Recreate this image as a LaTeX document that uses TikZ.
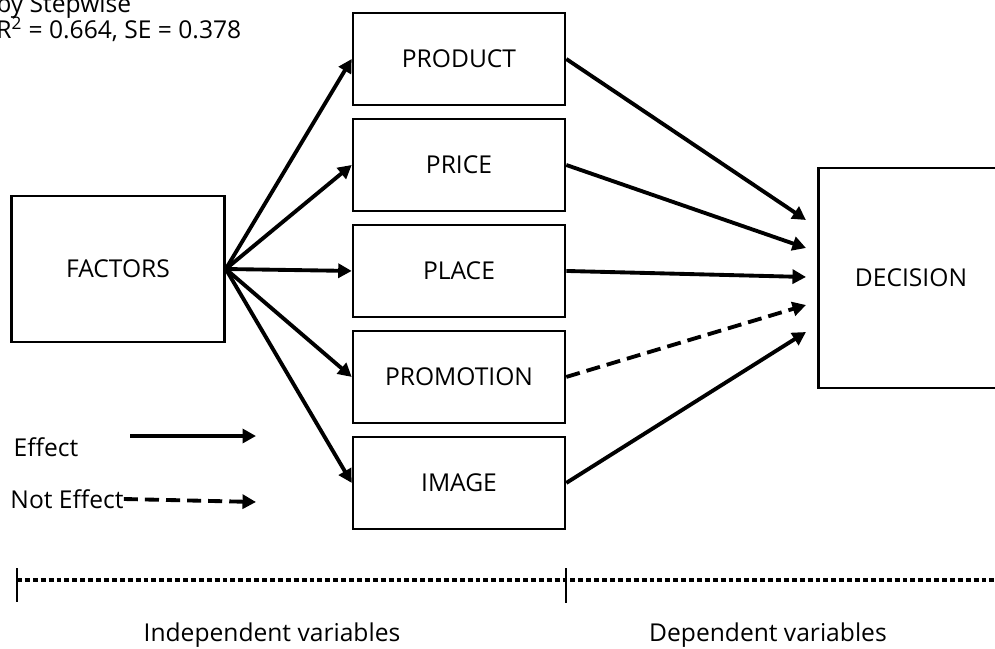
\documentclass[tikz,border=0pt]{standalone}
\usepackage{fontspec}
\setmainfont{Open Sans}
\usetikzlibrary{positioning,arrows.meta}

\begin{document}
\begin{tikzpicture}[x=0.02cm, y=-0.02cm, node distance=2.12cm, auto,
        >={Triangle[length=0.27cm,width=0.28cm]},
        font=\fontsize{14}{16}\selectfont,
        varbox/.style={draw, rectangle, line width=1.5pt, minimum width=4.24cm, minimum height=1.84cm},
        link/.style={->, line width=2.2pt},
        nolink/.style={link, dash pattern=on 8pt off 4pt}]
        \useasboundingbox (0,0) rectangle (995,649);

        % stepwise result
        \node[anchor=west, align=left, inner sep=0pt] (stats) at (-4,18) {by Stepwise\\[-1pt]R\textsuperscript{2} = 0.664, SE = 0.378};

        \node[varbox, minimum width=4.26cm, minimum height=2.92cm] (factors) at (118,269) {FACTORS};
        \node[varbox] (product) at (459,59) {PRODUCT};
        \node[varbox, below of=product] (price) {PRICE};
        \node[varbox, below of=price] (place) {PLACE};
        \node[varbox, below of=place] (promotion) {PROMOTION};
        \node[varbox, below of=promotion] (image) {IMAGE};
        \node[varbox, minimum width=3.7cm, minimum height=4.4cm] (decision) at (911,278) {DECISION};

        \coordinate (d1) at (806,220);
        \coordinate (d2) at (806,248);
        \coordinate (d3) at (806,277);
        \coordinate (d4) at (806,305);
        \coordinate (d5) at (806,332);

        \draw[link] (factors.east) -- (product.west);
        \draw[link] (factors.east) -- (price.west);
        \draw[link] (factors.east) -- (place.west);
        \draw[link] (factors.east) -- (promotion.west);
        \draw[link] (factors.east) -- (image.west);

        \draw[link] (product.east) -- (d1);
        \draw[link] (price.east) -- (d2);
        \draw[link] (place.east) -- (d3);
        \draw[nolink] (promotion.east) -- (d4);
        \draw[link] (image.east) -- (d5);

        % legend
        \node[inner sep=0pt] (effect) at (46,447) {Effect};
        \node[inner sep=0pt] (noeffect) at (67,499) {Not Effect};
        \coordinate (e1) at (130,436);
        \coordinate (e2) at (256,436);
        \coordinate (n2) at (256,502);
        \draw[link] (e1) -- (e2);
        \draw[nolink] (noeffect.east) -- (n2);

        % variable groups
        \coordinate (t1) at (17,568);
        \coordinate (t2) at (566,568);
        \coordinate (lineend) at (1000,580);
        \draw[line width=1pt] (t1) -- ++(0,34);
        \draw[line width=1pt] (t2) -- ++(0,35);
        \draw[line width=2.3pt, dash pattern=on 2.8pt off 1.7pt] (t1 |- lineend) -- (lineend);
        \node (indep) at (272,635) {Independent variables};
        \node (dep) at (768,635) {Dependent variables};
    \end{tikzpicture}
\end{document}
